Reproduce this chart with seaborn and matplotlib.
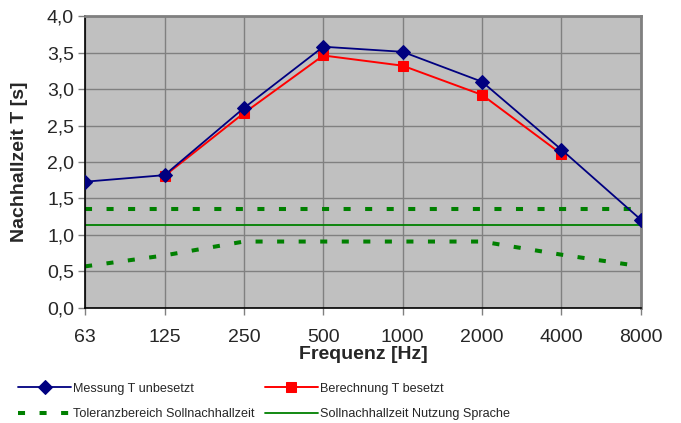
import numpy as np
import pandas as pd
import matplotlib
matplotlib.use("Agg")
import matplotlib.pyplot as plt
import seaborn as sns

## Data
frequencies = ['63', '125', '250', '500', '1000', '2000', '4000', '8000']
messung = [1.73, 1.82, 2.74, 3.58, 3.51, 3.10, 2.17, 1.21]
berechnung_freq = ['125', '250', '500', '1000', '2000', '4000']
berechnung = [1.81, 2.67, 3.46, 3.32, 2.92, 2.11]
toleranz_oben = [1.36, 1.36, 1.36, 1.36, 1.36, 1.36, 1.36, 1.36]
toleranz_unten = [0.57, 0.72, 0.91, 0.91, 0.91, 0.91, 0.73, 0.57]
soll = [1.14, 1.14, 1.14, 1.14, 1.14, 1.14, 1.14, 1.14]
y_ticks = [0.0, 0.5, 1.0, 1.5, 2.0, 2.5, 3.0, 3.5, 4.0]

pos = {f: i for i, f in enumerate(frequencies)}
df = pd.DataFrame({'x': [pos[f] for f in frequencies], 'messung': messung,
                   'oben': toleranz_oben, 'unten': toleranz_unten, 'soll': soll})
df_b = pd.DataFrame({'x': [pos[f] for f in berechnung_freq], 'berechnung': berechnung})

sns.set_style('white')
plt.rcParams['font.family'] = ['Liberation Sans', 'DejaVu Sans']

fig = plt.figure(figsize=(6.81, 4.23), dpi=100)
ax = fig.add_axes([0.125, 0.272, 0.816, 0.690])
ax.set_facecolor('#C0C0C0')

green = '#008000'
sns.lineplot(data=df, x='x', y='oben', ax=ax, color=green, lw=2.9,
             label='Toleranzbereich Sollnachhallzeit', zorder=2)
ax.lines[-1].set_dashes((1.75, 3.6))
sns.lineplot(data=df, x='x', y='unten', ax=ax, color=green, lw=2.9, zorder=2)
ax.lines[-1].set_dashes((1.75, 3.6))
sns.lineplot(data=df, x='x', y='soll', ax=ax, color=green, lw=1.3,
             label='Sollnachhallzeit Nutzung Sprache', zorder=2)
sns.lineplot(data=df_b, x='x', y='berechnung', ax=ax, color='#FF0000', lw=1.4,
             marker='s', markersize=7.5, markeredgecolor='#FF0000',
             label='Berechnung T besetzt', zorder=3)
sns.lineplot(data=df, x='x', y='messung', ax=ax, color='#000080', lw=1.3,
             marker='D', markersize=7.5, markeredgecolor='#000080',
             label='Messung T unbesetzt', zorder=4)

ax.set_xlim(0, len(frequencies) - 1)
ax.set_ylim(0, 4)
ax.set_xticks(range(len(frequencies)))
ax.set_xticklabels(frequencies)
ax.set_yticks(y_ticks)
ax.set_yticklabels([f'{v:.1f}'.replace('.', ',') for v in y_ticks])
ax.grid(True, color='#808080', lw=1.0)
ax.set_axisbelow(True)
ax.tick_params(axis='both', labelsize=14, length=5, width=1, color='#808080',
               direction='out', pad=3, left=True, bottom=True)
ax.tick_params(axis='x', pad=10)

for side in ['left', 'bottom']:
    ax.spines[side].set_color('black')
    ax.spines[side].set_linewidth(1.2)
for side in ['top', 'right']:
    ax.spines[side].set_color('#808080')
    ax.spines[side].set_linewidth(2)

ax.set_xlabel('Frequenz [Hz]', fontsize=14, fontweight='bold', labelpad=0)
ax.set_ylabel('Nachhallzeit T [s]', fontsize=14, fontweight='bold')
ax.yaxis.set_label_coords(-0.102, 0.5)

## Legend below the chart in two columns (matplotlib fills column by column)
handles, labels = ax.get_legend_handles_labels()
order = ['Messung T unbesetzt', 'Toleranzbereich Sollnachhallzeit',
         'Berechnung T besetzt', 'Sollnachhallzeit Nutzung Sprache']
hmap = dict(zip(labels, handles))
ax.get_legend().remove()
fig.legend([hmap[l] for l in order], order, loc='lower left', ncol=2,
           bbox_to_anchor=(0.01, -0.02), frameon=False, fontsize=9.1,
           handlelength=4.2, handletextpad=0.15, columnspacing=0.8,
           labelspacing=1.05, markerscale=1.0)

fig.savefig('out.png', dpi=100)
